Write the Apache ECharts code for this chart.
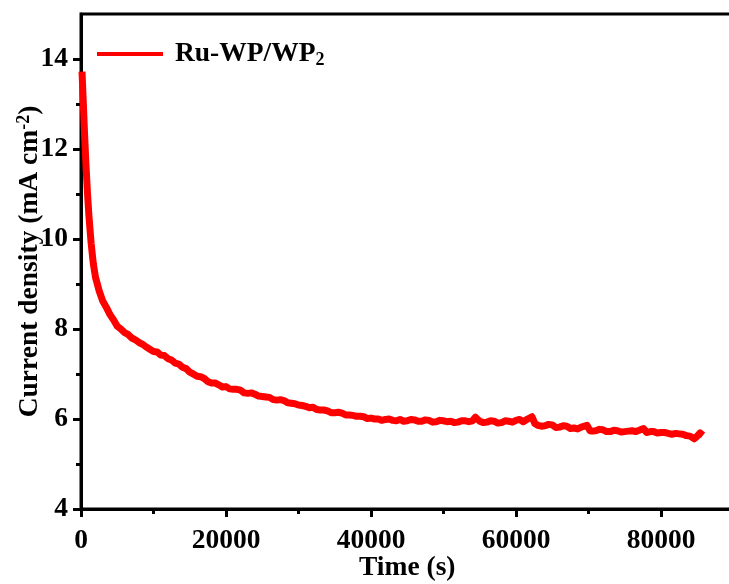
<!DOCTYPE html>
<html>
<head>
<meta charset="utf-8">
<script src="https://cdn.jsdelivr.net/npm/echarts@6/dist/echarts.min.js"></script>
<style>
html,body{margin:0;padding:0;overflow:hidden;background:#fff;}
#chart{width:740px;height:584px;}
</style>
</head>
<body>
<div id="chart"></div>
<script>
const timeS = [140,300,500,700,900,1100,1400,1700,2000,2500,3000,3500,4000,4500,5000,5500,6000,6500,7000,7500,8000,8500,9000,9500,
10000,10500,11000,11500,12000,12500,13000,13500,14000,14500,15000,15500,16000,16500,17000,17500,18000,18500,19000,19500,
20000,20500,21000,21500,22000,22500,23000,23500,24000,24500,25000,25500,26000,26500,27000,27500,28000,28500,29000,29500,
30000,30500,31000,31500,32000,32500,33000,33500,34000,34500,35000,35500,36000,36500,37000,37500,38000,38500,39000,39500,
40000,40500,41000,41500,42000,42500,43000,43500,44000,44500,45000,45500,46000,46500,47000,47500,48000,48500,49000,49500,
50000,50500,51000,51500,52000,52500,53000,53500,54000,54400,55000,55500,56000,56500,57000,57500,58000,58500,59000,59500,
60000,60500,61000,61600,62200,62600,63000,63500,64000,64500,65000,65500,66000,66500,67000,67500,68000,68500,69000,69800,
70200,70500,71000,71500,72000,72500,73000,73500,74000,74500,75000,75500,76000,76500,77000,77600,78000,78500,79000,79500,
80000,80500,81000,81500,82000,82500,83000,83500,84000,84600,85000,85400,85800];
const currentDensity = [13.72,13.1,12.3,11.6,11.0,10.5,9.9,9.45,9.15,8.85,8.62,8.48,8.32,8.2,8.06,8.0,7.92,7.88,7.8,7.76,7.7,7.66,7.6,7.55,
7.5,7.49,7.42,7.41,7.34,7.31,7.24,7.22,7.15,7.12,7.04,7.0,6.95,6.94,6.9,6.83,6.8,6.8,6.76,6.71,
6.72,6.67,6.66,6.66,6.64,6.58,6.57,6.58,6.55,6.51,6.5,6.49,6.48,6.43,6.42,6.43,6.41,6.36,6.35,6.34,
6.31,6.3,6.28,6.25,6.26,6.21,6.2,6.2,6.18,6.14,6.14,6.15,6.13,6.09,6.09,6.08,6.06,6.06,6.05,6.01,
6.02,6.0,6.0,5.97,5.99,6.0,5.97,5.96,5.99,5.95,5.96,5.99,5.98,5.95,5.95,5.98,5.97,5.93,5.94,5.97,
5.96,5.94,5.95,5.92,5.93,5.96,5.96,5.94,5.96,6.04,5.95,5.92,5.93,5.96,5.95,5.91,5.92,5.96,5.95,5.93,
5.97,5.99,5.94,6.0,6.05,5.9,5.86,5.84,5.85,5.88,5.87,5.81,5.82,5.85,5.84,5.79,5.8,5.78,5.82,5.86,
5.74,5.73,5.74,5.77,5.76,5.72,5.72,5.75,5.74,5.71,5.72,5.73,5.74,5.72,5.75,5.79,5.7,5.72,5.72,5.69,
5.7,5.7,5.68,5.66,5.68,5.67,5.66,5.63,5.62,5.56,5.62,5.69,5.64];
const seriesName = 'Ru-WP/WP{sub|2}';
const yMajorTicks = [4,6,8,10,12,14];
const yMinorTicks = [5,7,9,11,13];
const xMajorTicks = [0,20000,40000,60000,80000];
const xMinorTicks = [10000,30000,50000,70000];

const FONT = "'Liberation Serif','Times New Roman',serif";
const FS = 27.5;
const chart = echarts.init(document.getElementById('chart'), null, {renderer:'canvas'});
const labelStyle = {fontFamily: FONT, fontWeight: 'bold', fontSize: FS, color: '#000'};
chart.setOption({
  animation: false,
  backgroundColor: '#fff',
  grid: {left: 81, right: 6.5, top: 14, bottom: 75, show: true, borderColor: '#000', borderWidth: 3,
         outerBoundsMode: 'none', containLabel: false},
  legend: {
    left: 92, top: 35,
    itemWidth: 66, itemHeight: 4, icon: 'rect',
    data: [{name: seriesName, itemStyle: {color: '#ff0000'}}],
    formatter: function(n){ return ' ' + n; },
    textStyle: {fontFamily: FONT, fontWeight: 'bold', fontSize: FS, color: '#000',
      rich: {sub: {fontFamily: FONT, fontWeight: 'bold', fontSize: 18, verticalAlign: 'bottom', padding: [12,0,0,0], color: '#000'}}}
  },
  xAxis: [{
    type: 'value', min: 0, max: 90000, interval: 10000,
    name: 'Time (s)', nameLocation: 'middle', nameGap: 45, nameMoveOverlap: false,
    nameTextStyle: labelStyle,
    axisLine: {show: true, lineStyle: {color: '#000', width: 3}},
    axisTick: {show: true, inside: false, length: 8, lineStyle: {color: '#000', width: 3}, customValues: xMajorTicks},
    axisLabel: Object.assign({margin: 18, customValues: xMajorTicks, formatter: v => String(v)}, labelStyle),
    splitLine: {show: false}
  },{
    type: 'value', min: 0, max: 90000, position: 'bottom',
    axisLine: {show: false},
    axisTick: {show: true, length: 5, lineStyle: {color: '#000', width: 3}, customValues: xMinorTicks},
    axisLabel: {show: false},
    splitLine: {show: false}
  }],
  yAxis: [{
    type: 'value', min: 4, max: 15, interval: 1,
    name: 'Current density (mA cm{sup|-2})', nameLocation: 'middle', nameGap: 36, nameMoveOverlap: false,
    nameTextStyle: Object.assign({}, labelStyle, {
      rich: {sup: {fontFamily: FONT, fontWeight: 'bold', fontSize: 18, verticalAlign: 'top', padding: [0,0,12,0], color: '#000'}}
    }),
    axisLine: {show: true, lineStyle: {color: '#000', width: 3}},
    axisTick: {show: true, length: 8, lineStyle: {color: '#000', width: 3}, customValues: yMajorTicks},
    axisLabel: Object.assign({margin: 13, customValues: yMajorTicks, formatter: v => String(v)}, labelStyle),
    splitLine: {show: false}
  },{
    type: 'value', min: 4, max: 15, position: 'left',
    axisLine: {show: false},
    axisTick: {show: true, length: 5, lineStyle: {color: '#000', width: 3}, customValues: yMinorTicks},
    axisLabel: {show: false},
    splitLine: {show: false}
  }],
  series: [{
    name: seriesName,
    type: 'line',
    showSymbol: false,
    color: '#ff0000',
    lineStyle: {color: '#ff0000', width: 7, join: 'round'},
    data: timeS.map((t, i) => [t, currentDensity[i]])
  }]
});
</script>
</body>
</html>
